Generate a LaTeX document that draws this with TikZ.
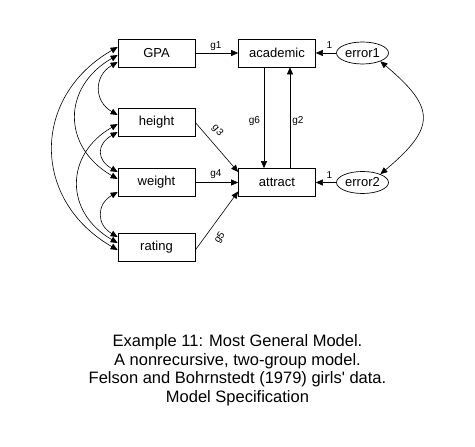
\documentclass[tikz,border=0pt]{standalone}
\usepackage{fontspec}
\setmainfont{Liberation Sans}
\usetikzlibrary{arrows.meta,shapes.geometric}
\begin{document}
\begin{tikzpicture}[x=1pt,y=1pt,
  var/.style={draw,line width=0.7pt,minimum width=77pt,minimum height=28pt,inner sep=0pt,font=\fontsize{13}{15}\selectfont},
  err/.style={draw,ellipse,line width=0.7pt,minimum width=52pt,minimum height=22pt,inner sep=0pt,font=\fontsize{13}{15}\selectfont},
  lbl/.style={font=\fontsize{10}{12}\selectfont,inner sep=0pt},
  arr/.style={line width=0.6pt,-{Triangle[length=7pt,width=6pt]}},
  cov/.style={line width=0.6pt,{Triangle[length=7pt,width=6pt]}-{Triangle[length=7pt,width=6pt]}},
  captext/.style={font=\fontsize{16.5}{18.5}\selectfont,inner sep=0pt,anchor=base}
]
\useasboundingbox (0,0) rectangle (475,447);
% observed variables
\node[var] (GPA) at (156.5,394) {GPA};
\node[var] (height) at (156.5,324.5) {height};
\node[var] (weight) at (156.5,264.5) {weight};
\node[var] (rating) at (156.5,200) {rating};
\node[var] (academic) at (277,394) {academic};
\node[var] (attract) at (277,264.5) {attract};
\node[err] (error1) at (362.5,394) {error1};
\node[err] (error2) at (362.5,264.5) {error2};
% regression paths
\draw[arr] (GPA) -- (academic);
\draw[arr] (height.east) -- ([yshift=10.5pt]attract.west);
\draw[arr] (weight) -- (attract);
\draw[arr] ([yshift=-3pt]rating.east) -- ([yshift=-9pt]attract.west);
\draw[arr] ([xshift=-13pt]academic.south) -- ([xshift=-13pt]attract.north);
\draw[arr] ([xshift=13pt]attract.north) -- ([xshift=13pt]academic.south);
\draw[arr] (error1) -- (academic);
\draw[arr] (error2) -- (attract);
% covariances
\draw[cov] ([yshift=-9pt]GPA.west) to[out=210,in=150,looseness=1.335] ([yshift=7.5pt]height.west);
\draw[cov] ([yshift=-9.5pt]height.west) to[out=210,in=150,looseness=1.57] ([yshift=10.5pt]weight.west);
\draw[cov] ([yshift=-9.5pt]weight.west) to[out=210,in=150,looseness=1.4] ([yshift=10pt]rating.west);
\draw[cov] ([yshift=-2pt]GPA.west) to[out=210,in=150,looseness=1.33] ([yshift=3.5pt]weight.west);
\draw[cov] ([yshift=-1.5pt]height.west) to[out=210,in=150,looseness=1.32] ([yshift=4pt]rating.west);
\draw[cov] ([yshift=6pt]GPA.west) to[out=210,in=150,looseness=1.26] ([yshift=-3pt]rating.west);
\draw[cov] (error1.-25) to[out=-40,in=40,looseness=1.65] (error2.25);
% labels
\node[lbl] (lg1) at (216,401) {g1};
\node[lbl] (lg4) at (216,273) {g4};
\node[lbl] (lg6) at (254.5,326) {g6};
\node[lbl] (lg2) at (298,326) {g2};
\node[lbl,rotate=-48.7] (lg3) at (217.5,316.5) {g3};
\node[lbl,rotate=53.7] (lg5) at (220,209) {g5};
\node[lbl] (l1a) at (329.5,402) {1};
\node[lbl] (l1b) at (329.5,272) {1};
% caption
\node[captext] (cap1) at (237.5,100) {Example 11: Most General Model.};
\node[captext] (cap2) at (237.5,81.5) {A nonrecursive, two-group model.};
\node[captext] (cap3) at (237.5,63) {Felson and Bohrnstedt (1979) girls\textquotesingle\ data.};
\node[captext] (cap4) at (237.5,44.5) {Model Specification};
\end{tikzpicture}
\end{document}
